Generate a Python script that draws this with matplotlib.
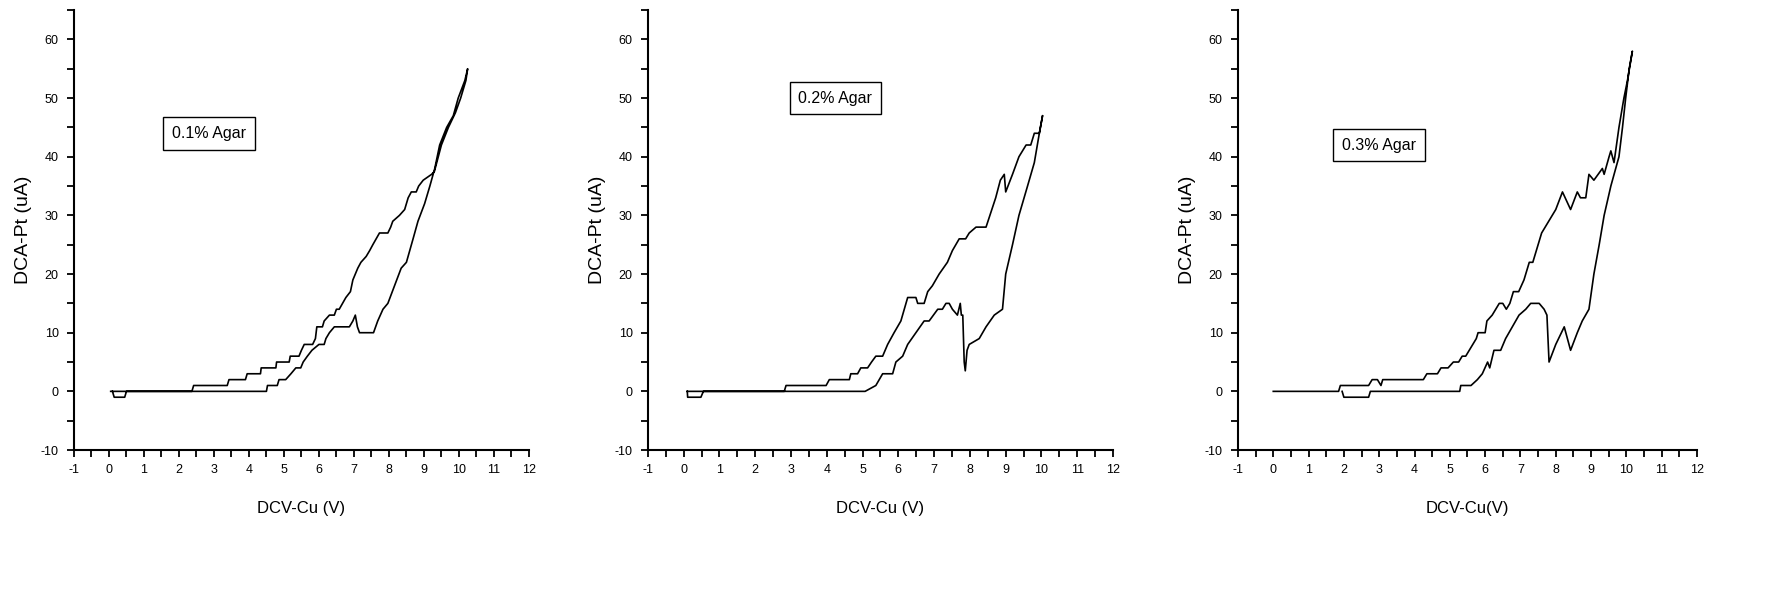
import matplotlib
matplotlib.use('Agg')
import matplotlib.pyplot as plt
from matplotlib.ticker import MultipleLocator

plt.rcParams['font.family'] = ['Liberation Sans', 'DejaVu Sans']
plt.rcParams['axes.unicode_minus'] = False

# 0.1% agar: forward sweep then return sweep (V, uA)
v1 = [0.05, 4.5, 4.53, 4.81, 4.86, 5.05, 5.2, 5.34, 5.48, 5.55, 5.67, 5.8, 6.0, 6.15,
      6.2, 6.3, 6.44, 6.87, 6.97, 7.04, 7.1, 7.16, 7.56, 7.68, 7.83, 7.97, 8.16, 8.35,
      8.5, 8.69, 8.83, 9.02, 9.17, 9.31, 9.45, 9.65, 9.84, 9.98, 10.17, 10.25,
      10.2, 10.05, 9.9, 9.7, 9.5, 9.3, 9.22, 8.98, 8.85, 8.78, 8.64, 8.55, 8.45, 8.3,
      8.11, 8.05, 7.97, 7.73, 7.54, 7.45, 7.35, 7.2, 7.11, 6.97, 6.9, 6.77, 6.58, 6.5,
      6.44, 6.3, 6.15, 6.1, 5.94, 5.9, 5.82, 5.58, 5.5, 5.43, 5.18, 5.15, 4.79, 4.77,
      4.35, 4.33, 3.95, 3.9, 3.43, 3.38, 2.42, 2.37, 0.5, 0.45, 0.15, 0.1]
i1 = [0, 0, 1, 1, 2, 2, 3, 4, 4, 5, 6, 7, 8, 8,
      9, 10, 11, 11, 12, 13, 11, 10, 10, 12, 14, 15, 18, 21,
      22, 26, 29, 32, 35, 38, 42, 45, 47, 50, 53, 55,
      53, 50, 47.5, 45, 42, 37.5, 37, 36, 35, 34, 34, 33, 31, 30,
      29, 28, 27, 27, 25, 24, 23, 22, 21, 19, 17, 16, 14, 14,
      13, 13, 12, 11, 11, 9, 8, 8, 7, 6, 6, 5, 5, 4,
      4, 3, 3, 2, 2, 1, 1, 0, 0, -1, -1, 0]

# 0.2% agar
v2 = [0.1, 5.07, 5.37, 5.56, 5.65, 5.84, 5.93, 6.12, 6.26, 6.49, 6.72, 6.86, 7.1, 7.23,
      7.33, 7.42, 7.51, 7.65, 7.73, 7.76, 7.8, 7.84, 7.87, 7.92, 7.98, 8.26, 8.45, 8.68,
      8.91, 9.0, 9.19, 9.37, 9.61, 9.8, 9.94, 10.03,
      9.94, 9.8, 9.7, 9.57, 9.37, 9.19, 9.0, 8.96, 8.85, 8.72, 8.45, 8.4, 8.17, 7.98,
      7.88, 7.7, 7.51, 7.37, 7.14, 6.95, 6.82, 6.72, 6.54, 6.49, 6.26, 6.07, 5.88, 5.7,
      5.56, 5.37, 5.25, 5.14, 4.95, 4.86, 4.67, 4.63, 4.07, 3.98, 2.86, 2.81,
      0.55, 0.48, 0.11, 0.1]
i2 = [0, 0, 1, 3, 3, 3, 5, 6, 8, 10, 12, 12, 14, 14,
      15, 15, 14, 13, 15, 13, 13, 5, 3.5, 7, 8, 9, 11, 13,
      14, 20, 25, 30, 35, 39, 44, 47,
      44, 44, 42, 42, 40, 37, 34, 37, 36, 33, 28, 28, 28, 27,
      26, 26, 24, 22, 20, 18, 17, 15, 15, 16, 16, 12, 10, 8,
      6, 6, 5, 4, 4, 3, 3, 2, 2, 1, 1, 0,
      0, -1, -1, 0]

# 0.3% agar
v3 = [0.0, 1.85, 1.9, 2.7, 2.8, 2.95, 3.05, 3.1, 4.25, 4.35, 4.65, 4.75, 4.95, 5.1,
      5.25, 5.35, 5.45, 5.55, 5.65, 5.75, 5.8, 6.0, 6.05, 6.2, 6.3, 6.4, 6.5, 6.6,
      6.7, 6.8, 6.95, 7.1, 7.25, 7.35, 7.45, 7.6, 7.8, 8.0, 8.19, 8.42, 8.61, 8.7,
      8.85, 8.94, 9.08, 9.32, 9.37, 9.51, 9.56, 9.65, 9.79, 9.93, 10.03, 10.17,
      10.08, 9.98, 9.89, 9.79, 9.56, 9.37, 9.23, 9.08, 8.94, 8.75, 8.61, 8.42, 8.24,
      8.0, 7.81, 7.75, 7.67, 7.53, 7.29, 7.15, 6.96, 6.77, 6.58, 6.44, 6.25, 6.13,
      6.07, 5.92, 5.78, 5.6, 5.31, 5.28, 2.75, 2.7, 2.0, 1.95]
i3 = [0, 0, 1, 1, 2, 2, 1, 2, 2, 3, 3, 4, 4, 5,
      5, 6, 6, 7, 8, 9, 10, 10, 12, 13, 14, 15, 15, 14,
      15, 17, 17, 19, 22, 22, 24, 27, 29, 31, 34, 31, 34, 33,
      33, 37, 36, 38, 37, 40, 41, 39, 45, 50, 53, 58,
      55, 50, 45, 40, 35, 30, 25, 20, 14, 12, 10, 7, 11,
      8, 5, 13, 14, 15, 15, 14, 13, 11, 9, 7, 7, 4,
      5, 3, 2, 1, 1, 0, 0, -1, -1, 0]

volts = [v1, v2, v3]
amps = [i1, i2, i3]
labels = ['0.1% Agar', '0.2% Agar', '0.3% Agar']
label_pos = [(2.86, 44), (4.24, 50), (3.0, 42)]
xlabels = ['DCV-Cu (V)', 'DCV-Cu (V)', 'DCV-Cu(V)']
xticks = list(range(-1, 13))
yticks = list(range(-10, 61, 10))

fig = plt.figure(figsize=(17.82, 5.94), dpi=100)
rects = [[0.0415, 0.2424, 0.2553, 0.7406],
         [0.3636, 0.2424, 0.2610, 0.7406],
         [0.6947, 0.2424, 0.2576, 0.7406]]

for k in range(3):
    ax = fig.add_axes(rects[k])
    ax.plot(volts[k], amps[k], color='black', lw=1.2)
    ax.set_xlim(-1, 12)
    ax.set_ylim(-10, 65)
    ax.spines['top'].set_visible(False)
    ax.spines['right'].set_visible(False)
    ax.spines['left'].set_linewidth(1.5)
    ax.spines['bottom'].set_linewidth(1.5)
    ax.set_xticks(xticks)
    ax.set_yticks(yticks)
    ax.xaxis.set_minor_locator(MultipleLocator(0.5))
    ax.yaxis.set_minor_locator(MultipleLocator(5))
    ax.tick_params(which='both', direction='out', length=5, width=1.3, labelsize=9)
    ax.tick_params(axis='x', pad=5)
    ax.tick_params(axis='y', pad=6)
    ax.set_xlabel(xlabels[k], fontsize=12, labelpad=18)
    ax.set_ylabel('DCA-Pt (uA)', fontsize=14, labelpad=6)
    ax.text(label_pos[k][0], label_pos[k][1], labels[k], fontsize=11.5, ha='center', va='center',
            bbox=dict(boxstyle='square,pad=0.55', fc='white', ec='black', lw=1.0))

fig.savefig('out.png', dpi=100)
